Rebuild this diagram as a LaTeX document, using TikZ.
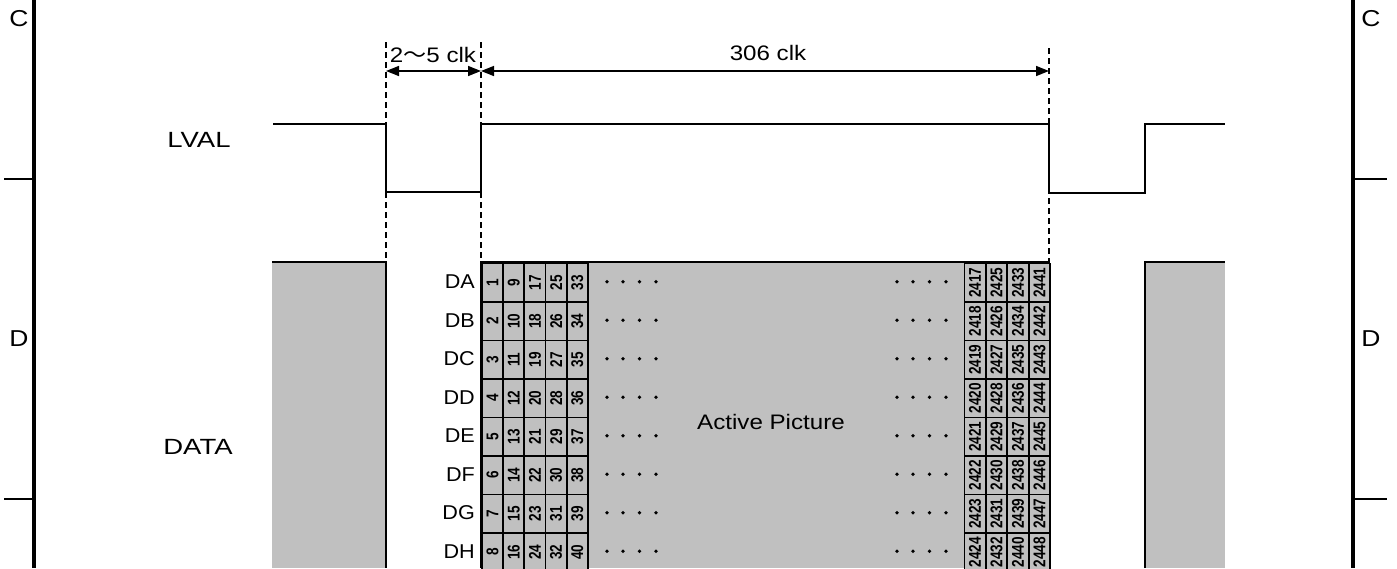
\documentclass[tikz,border=0pt]{standalone}
\usepackage{fontspec}
\setmainfont{Liberation Sans}[FakeStretch=1.15]
\newfontfamily\widefont{Liberation Sans}[FakeStretch=1.25]
\newfontfamily\rowfont{Liberation Sans}[FakeStretch=1.08]
\newfontfamily\jpfont{Noto Sans CJK JP}[FakeStretch=1.1]
\newfontfamily\numfont{Liberation Sans}[FakeStretch=0.8]
\usetikzlibrary{arrows.meta}
\definecolor{bgray}{HTML}{C0C0C0}
\begin{document}
\begin{tikzpicture}[x=1pt,y=-1pt,
  lbl/.style={font=\fontsize{21}{24}\selectfont, inner sep=0pt},
  siglbl/.style={font=\widefont\fontsize{22}{24}\selectfont, inner sep=0pt},
  framelbl/.style={font=\fontsize{23}{24}\selectfont, inner sep=0pt},
  rowlbl/.style={font=\rowfont\fontsize{20}{24}\selectfont, inner sep=0pt, anchor=east},
  sig/.style={line width=2pt, line join=miter},
  frameline/.style={line width=4pt},
  tickline/.style={line width=1.6pt},
  guide/.style={line width=1.5pt, dash pattern=on 6pt off 4pt},
  dimarrow/.style={line width=1.5pt, {Triangle[length=13pt,width=10pt]}-{Triangle[length=13pt,width=10pt]}},
  cell/.style={draw, line width=1.8pt, fill=bgray, minimum width=21.3pt, minimum height=38.5pt, inner sep=0pt, anchor=north west},
  num/.style={font=\numfont\bfseries\fontsize{17}{17}\selectfont, rotate=90, inner sep=0pt},
  dotmark/.style={circle, fill, inner sep=0pt, minimum size=3.8pt},
]
\useasboundingbox (0,0) rectangle (1397,568);
% frame
\draw[frameline] (34,0) -- (34,568);
\draw[frameline] (1353,0) -- (1353,568);
\draw[tickline] (4,179) -- (34,179);
\draw[tickline] (4,499) -- (34,499);
\draw[tickline] (1353,179) -- (1387,179);
\draw[tickline] (1353,499) -- (1387,499);
\node[framelbl] (cL) at (19,19) {C};
\node[framelbl] (dL) at (19,339) {D};
\node[framelbl] (cR) at (1371,19) {C};
\node[framelbl] (dR) at (1371,339) {D};
% coordinates
\coordinate (g1t) at (386,42);
\coordinate (g2t) at (481,42);
\coordinate (g3t) at (1049,48);
\coordinate (g1b) at (386,262);
\coordinate (g2b) at (481,262);
\coordinate (g3b) at (1049,262);
\coordinate (a1) at (386,71);
\coordinate (a2) at (481,71);
\coordinate (a3) at (1049,71);
% gray data blocks
\fill[bgray] (272,262) rectangle (386,568);
\fill[bgray] (481,262) rectangle (1049,568);
\fill[bgray] (1145,262) rectangle (1225,568);
\draw[sig] (272,262) -- (g1b) -- (386,568);
\draw[sig] (481,568) -- (g2b) -- (g3b) -- (1049,568);
\draw[sig] (1145,568) -- (1145,262) -- (1225,262);
% guides
\draw[guide] (g1t) -- (g1b);
\draw[guide] (g2t) -- (g2b);
\draw[guide] (g3t) -- (g3b);
% dimension arrows
\draw[dimarrow] (a1) -- (a2);
\draw[dimarrow] (a2) -- (a3);
\node[lbl] (t25) at (433,55) {2{\jpfont 〜}5 clk};
\node[lbl] (t306) at (768,53) {306 clk};
% LVAL signal
\draw[sig] (273,124) -- (386,124) -- (386,192) -- (481,192) -- (481,124) -- (1049,124) -- (1049,193) -- (1145,193) -- (1145,124) -- (1225,124);
\node[siglbl] (lval) at (199,140) {LVAL};
\node[siglbl] (data) at (198,447) {DATA};
% cells
\foreach \c in {0,...,4} {
  \foreach \r in {0,...,7} {
    \pgfmathtruncatemacro\nn{8*\c+\r+1}
    \node[cell] (L\c-\r) at (481+21.2*\c, 262.5+38.5*\r) {};
    \node[num] at (L\c-\r.center) {\nn};
  }
}
\foreach \c in {0,...,3} {
  \foreach \r in {0,...,7} {
    \pgfmathtruncatemacro\nn{2417+8*\c+\r}
    \node[cell] (R\c-\r) at (963.5+21.5*\c, 262.5+38.5*\r) {};
    \node[num] at (R\c-\r.center) {\nn};
  }
}
% row labels and dots
\foreach \lab [count=\i from 0] in {DA,DB,DC,DD,DE,DF,DG,DH} {
  \pgfmathsetmacro\yy{281.75+38.5*\i}
  \node[rowlbl] (row\i) at (475,\yy) {\lab};
  \foreach \xx in {607,623,639.5,656,897,913,929.5,946} {
    \node[dotmark] at (\xx,\yy) {};
  }
}
\node[lbl] (ap) at (771,422) {Active Picture};
\end{tikzpicture}
\end{document}
